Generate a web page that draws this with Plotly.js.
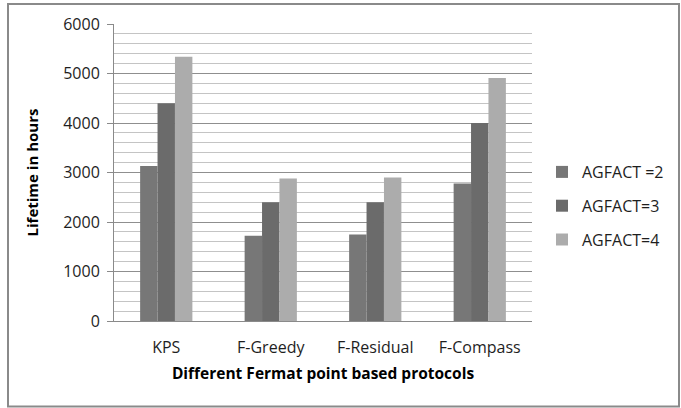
<!DOCTYPE html>
<html>
<head>
<meta charset="utf-8">
<script src="https://cdn.plot.ly/plotly-3.0.1.min.js"></script>
<style>
  html, body { margin: 0; padding: 0; background: #ffffff; }
  #chart { width: 681px; height: 408px; }
</style>
</head>
<body>
<div id="chart"></div>
<script>
// Network lifetime of Fermat-point based routing protocols
const protocols = ["KPS", "F-Greedy", "F-Residual", "F-Compass"];
const seriesNames = ["AGFACT =2", "AGFACT=3", "AGFACT=4"];
const agfact2 = [3130, 1720, 1750, 2780];
const agfact3 = [4400, 2400, 2400, 4000];
const agfact4 = [5340, 2880, 2900, 4910];
const yTicks = [0, 1000, 2000, 3000, 4000, 5000, 6000];

const seriesValues = [agfact2, agfact3, agfact4];
const barColors = ["#777777", "#6b6b6b", "#acacac"];

const traces = seriesValues.map((vals, i) => ({
  type: "bar",
  name: seriesNames[i],
  x: protocols,
  y: vals,
  legendgroup: "g" + i,
  marker: { color: barColors[i], line: { width: 0 } },
  hoverinfo: "skip"
}));

const W = 681, H = 408;
const M = { l: 114, r: 149, t: 24, b: 87, autoexpand: false };
const pw = W - M.l - M.r, ph = H - M.t - M.b;
// outer frame expressed in paper units
const px = v => (v - M.l) / pw;
const py = v => (H - M.b - v) / ph;

const layout = {
  width: W,
  height: H,
  margin: M,
  paper_bgcolor: "#ffffff",
  plot_bgcolor: "#ffffff",
  font: { family: "Open Sans, sans-serif", size: 16, color: "#1e1e1e" },
  barmode: "group",
  bargap: 0.5,
  bargroupgap: 0,
  showlegend: true,
  legend: {
    x: px(542), xanchor: "left",
    y: py(206), yanchor: "middle",
    font: { family: "Open Sans, sans-serif", size: 16, color: "#1e1e1e" },
    tracegroupgap: 10,
    bgcolor: "rgba(0,0,0,0)"
  },
  xaxis: {
    showline: true,
    linecolor: "#8a8a8a",
    linewidth: 1,
    ticks: "",
    tickfont: { size: 16 },
    ticklabelstandoff: 12,
    title: {
      text: "Different Fermat point based protocols",
      font: { family: "Open Sans, sans-serif", size: 15.5, color: "#000000", weight: "bold" },
      standoff: 10
    },
    fixedrange: true
  },
  yaxis: {
    range: [0, 6000],
    tickvals: yTicks,
    ticktext: yTicks.map(String),
    ticks: "outside",
    ticklen: 6,
    tickcolor: "#8a8a8a",
    showline: true,
    linecolor: "#8a8a8a",
    linewidth: 1,
    showgrid: true,
    gridcolor: "#8f8f8f",
    gridwidth: 1,
    zeroline: false,
    minor: { dtick: 200, showgrid: true, gridcolor: "#c4c4c4", gridwidth: 1 },
    tickfont: { size: 16 },
    ticklabelstandoff: 4,
    title: {
      text: "Lifetime in hours",
      font: { family: "Open Sans, sans-serif", size: 15, color: "#000000", weight: "bold" },
      standoff: 20
    },
    fixedrange: true
  },
  shapes: [{
    type: "rect", xref: "paper", yref: "paper", layer: "above",
    x0: px(8), x1: px(679), y0: py(406.5), y1: py(4),
    line: { color: "#8a8a8a", width: 2 }
  }]
};

Plotly.newPlot("chart", traces, layout, { staticPlot: true, displayModeBar: false });
</script>
</body>
</html>
